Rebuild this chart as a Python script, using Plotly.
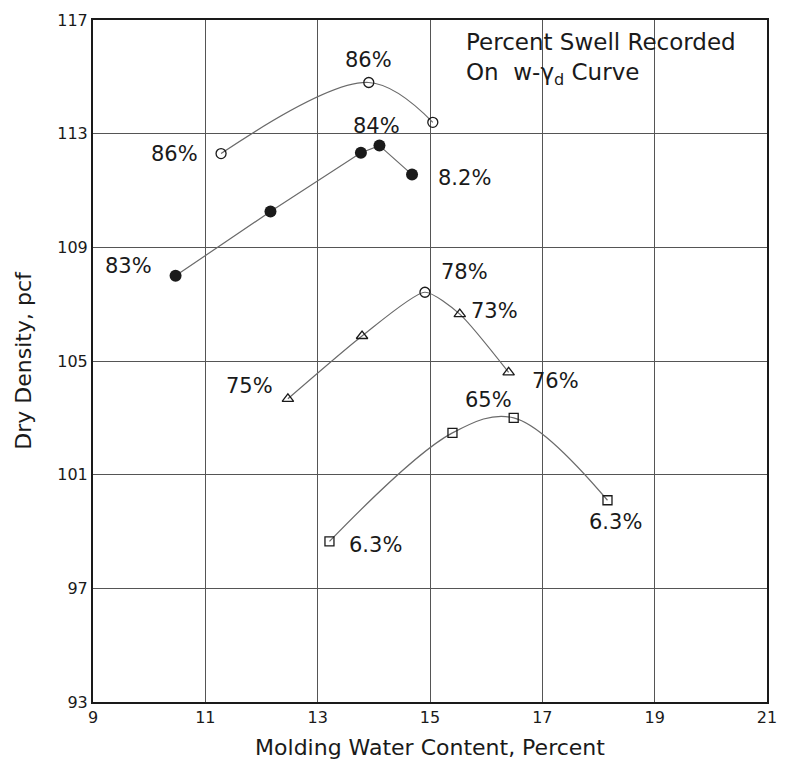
import plotly.graph_objects as go

# ---- data ----
s1_x = [11.28, 13.91, 15.05]
s1_y = [112.3, 114.8, 113.4]
s1_labels = ["86%", "86%", ""]

s2_x = [10.47, 12.16, 13.77, 14.10, 14.68]
s2_y = [108.0, 110.26, 112.33, 112.58, 111.56]
s2_labels = ["83%", "", "", "84%", "8.2%"]

s3_x = [12.47, 13.79, 14.91, 15.53, 16.40]
s3_y = [103.67, 105.88, 107.42, 106.65, 104.6]
s3_labels = ["75%", "", "78%", "73%", "76%"]

s4_x = [13.21, 15.40, 16.49, 18.16]
s4_y = [98.65, 102.47, 103.0, 100.1]
s4_labels = ["6.3%", "", "65%", "6.3%"]

x_ticks = [9, 11, 13, 15, 17, 19, 21]
y_ticks = [93, 97, 101, 105, 109, 113, 117]

# label offsets (pixels) relative to their point
s1_off = [(-47, 0), (0, 23), (0, 0)]
s2_off = [(-47, 10), (0, 0), (0, 0), (-3, 20), (52, -3)]
s3_off = [(-38, 13), (0, 0), (40, 20), (35, 3), (47, -9)]
s4_off = [(46, -4), (0, 0), (-25, 18), (8, -22)]

FONT = "DejaVu Sans"
LINE = "#6a6a6a"
INK = "#1a1a1a"
LABEL_SIZE = 21

fig = go.Figure()

fig.add_trace(go.Scatter(
    x=s1_x, y=s1_y, mode="lines+markers",
    line=dict(color=LINE, width=1.2, shape="spline", smoothing=1.0),
    marker=dict(symbol="circle-open", size=10, color=INK, line=dict(width=1.3)),
    showlegend=False))

fig.add_trace(go.Scatter(
    x=s2_x, y=s2_y, mode="lines+markers",
    line=dict(color=LINE, width=1.2),
    marker=dict(symbol="circle", size=12, color=INK),
    showlegend=False))

fig.add_trace(go.Scatter(
    x=s3_x, y=s3_y, mode="lines+markers",
    line=dict(color=LINE, width=1.2, shape="spline", smoothing=0.6),
    marker=dict(symbol=["triangle-up-open", "triangle-up-open", "circle-open",
                        "triangle-up-open", "triangle-up-open"],
                size=10, color=INK, line=dict(width=1.3)),
    showlegend=False))

fig.add_trace(go.Scatter(
    x=s4_x, y=s4_y, mode="lines+markers",
    line=dict(color=LINE, width=1.2, shape="spline", smoothing=1.0),
    marker=dict(symbol="square-open", size=9, color=INK, line=dict(width=1.3)),
    showlegend=False))

annotations = []
for xs, ys, labs, offs in [(s1_x, s1_y, s1_labels, s1_off),
                           (s2_x, s2_y, s2_labels, s2_off),
                           (s3_x, s3_y, s3_labels, s3_off),
                           (s4_x, s4_y, s4_labels, s4_off)]:
    for xv, yv, t, (dx, dy) in zip(xs, ys, labs, offs):
        if t:
            annotations.append(dict(x=xv, y=yv, text=t, showarrow=False,
                                    xshift=dx, yshift=dy,
                                    font=dict(family=FONT, size=LABEL_SIZE, color=INK)))

annotations.append(dict(
    xref="paper", yref="paper", x=0.55, y=0.99, xanchor="left", yanchor="top",
    align="left", showarrow=False,
    text="Percent Swell Recorded<br>On  w-γ<sub>d</sub> Curve",
    font=dict(family=FONT, size=23, color=INK)))

fig.update_layout(
    width=788, height=774,
    margin=dict(l=93, r=11, t=20, b=72),
    paper_bgcolor="white", plot_bgcolor="white",
    annotations=annotations,
    font=dict(family=FONT, color=INK),
)

fig.update_xaxes(
    range=[9, 21], tickvals=x_ticks, ticktext=[str(v) for v in x_ticks],
    showgrid=True, gridcolor="#555", gridwidth=1,
    showline=True, linecolor=INK, linewidth=2, mirror=True,
    zeroline=False, ticks="", tickfont=dict(size=16, family=FONT),
    ticklabeloverflow="allow",
    title=dict(text="Molding Water Content, Percent",
               font=dict(size=22, family=FONT), standoff=13))

fig.update_yaxes(
    range=[93, 117], tickvals=y_ticks, ticktext=[str(v) for v in y_ticks],
    showgrid=True, gridcolor="#555", gridwidth=1,
    showline=True, linecolor=INK, linewidth=2, mirror=True,
    zeroline=False, ticks="", tickfont=dict(size=16, family=FONT),
    title=dict(text="Dry Density, pcf",
               font=dict(size=22, family=FONT), standoff=20))

fig.write_html("out.html")
